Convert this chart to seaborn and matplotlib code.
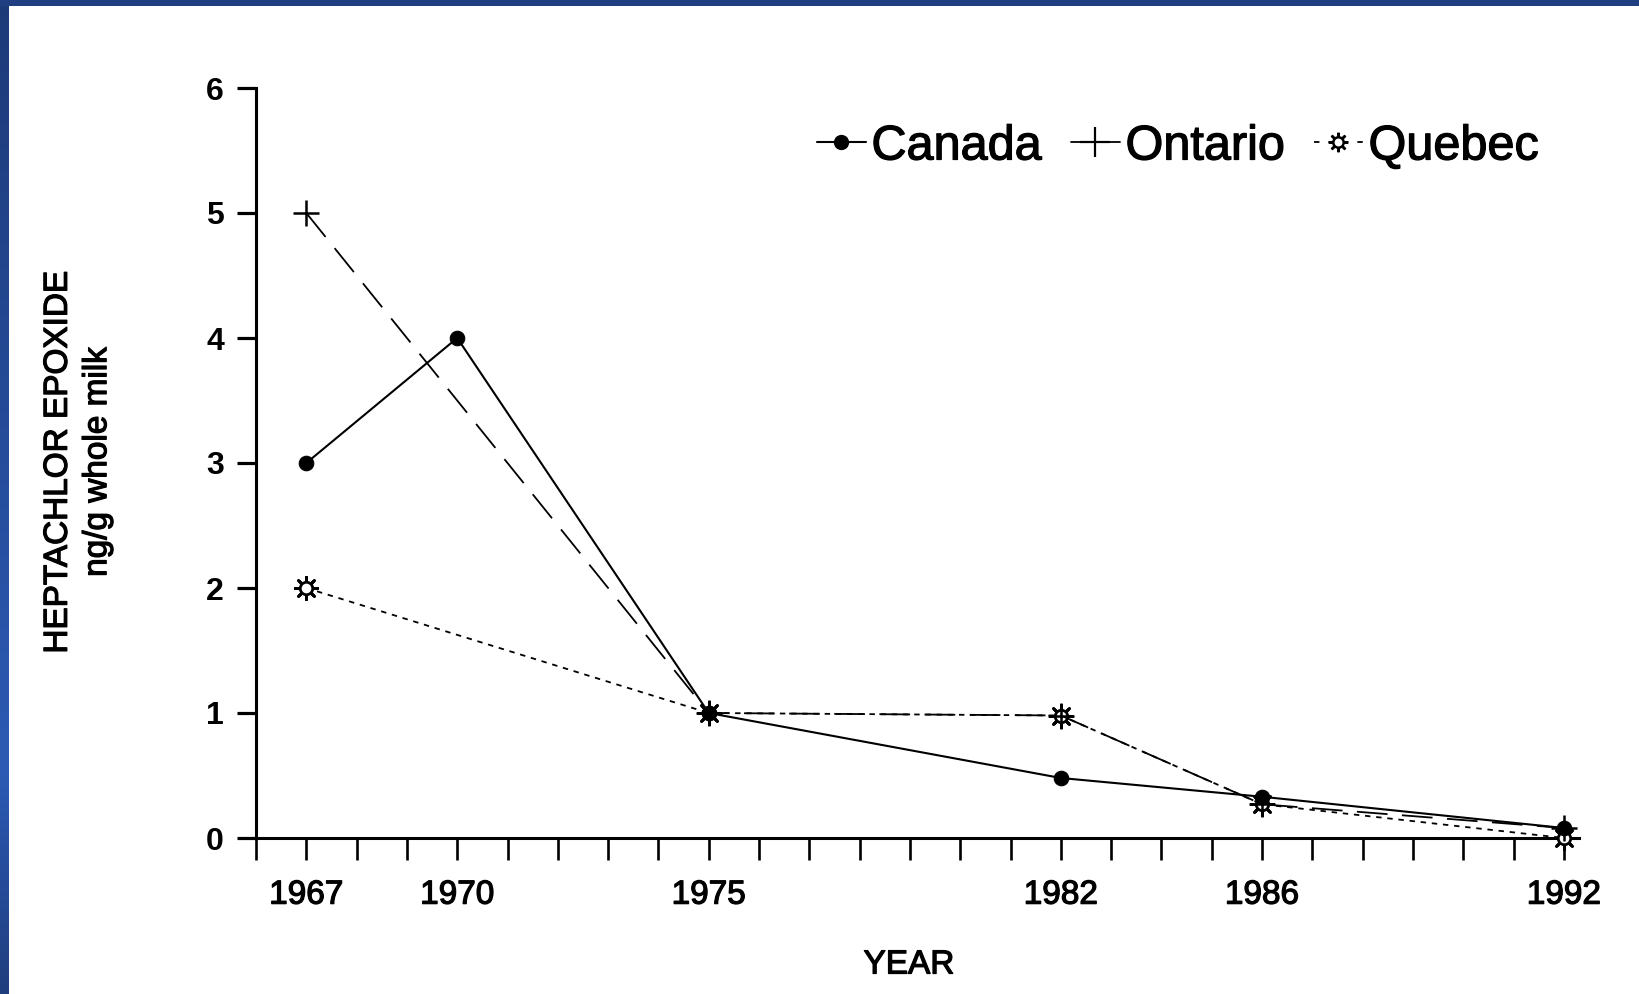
import numpy as np
import pandas as pd
import matplotlib
matplotlib.use("Agg")
import matplotlib.pyplot as plt
import matplotlib.patheffects as pe
from matplotlib.lines import Line2D
from matplotlib.legend_handler import HandlerTuple
from matplotlib.colors import LinearSegmentedColormap
from matplotlib.ticker import FixedLocator, FuncFormatter
import seaborn as sns

# Heptachlor epoxide residues in whole milk (ng/g)
canada_years = [1967, 1970, 1975, 1982, 1986, 1992]
canada_vals = [3.0, 4.0, 1.0, 0.48, 0.33, 0.08]

ontario_years = [1967, 1975, 1982, 1986, 1992]
ontario_vals = [5.0, 1.0, 0.98, 0.27, 0.08]

quebec_years = [1967, 1975, 1982, 1986, 1992]
quebec_vals = [2.0, 1.0, 0.98, 0.27, 0.0]

labelled_years = [1967, 1970, 1975, 1982, 1986, 1992]
y_ticks = [0, 1, 2, 3, 4, 5, 6]

sns.set_theme(style="white")
plt.rcParams["font.family"] = ["Liberation Sans", "DejaVu Sans"]

W, H = 1639, 994
fig = plt.figure(figsize=(W / 100, H / 100), dpi=100)
fig.patch.set_facecolor("white")

ink = "black"
heavy = [pe.withStroke(linewidth=0.9, foreground=ink)]

# slide frame: thin navy band on top, gradient strip on the left
left_strip = fig.add_axes([0, 0, 9 / W, 1])
cmap = LinearSegmentedColormap.from_list(
    "frame", [(0.0, "#1d3a78"), (0.78, "#2c5ab4"), (1.0, "#1f3e7e")])
left_strip.imshow(np.linspace(0, 1, 256).reshape(-1, 1), aspect="auto",
                  cmap=cmap, extent=[0, 1, 1, 0])
left_strip.set_axis_off()
top_band = fig.add_axes([0, 1 - 6 / H, 1, 6 / H])
top_band.set_facecolor("#1f3f80")
top_band.set_xticks([])
top_band.set_yticks([])
for s in top_band.spines.values():
    s.set_visible(False)

ax = fig.add_axes([256 / W, 156 / H, 1323 / W, 750 / H])
ax.set_facecolor("white")

canada = pd.DataFrame({"year": canada_years, "value": canada_vals})
ontario = pd.DataFrame({"year": ontario_years, "value": ontario_vals})
quebec = pd.DataFrame({"year": quebec_years, "value": quebec_vals})

# Quebec: dotted line, sun-like open marker
sns.scatterplot(data=quebec, x="year", y="value", ax=ax, marker=(8, 2, 0),
                s=260, color=ink, edgecolor=ink, linewidth=2.0,
                clip_on=False, zorder=4, legend=False)
sns.lineplot(data=quebec, x="year", y="value", ax=ax, color=ink,
             linewidth=1.3, linestyle=(0, (3, 3.2)), marker="o",
             markersize=9, markerfacecolor="white", markeredgecolor=ink,
             markeredgewidth=2.0, errorbar=None, clip_on=False, zorder=5)

# Ontario: long dashes with plus markers
sns.lineplot(data=ontario, x="year", y="value", ax=ax, color=ink,
             linewidth=1.3, linestyle=(0, (17, 8)), marker="+",
             markersize=19, markeredgewidth=1.8, markeredgecolor=ink,
             errorbar=None, clip_on=False, zorder=6)

# Canada: solid line with filled circles
sns.lineplot(data=canada, x="year", y="value", ax=ax, color=ink,
             linewidth=1.5, marker="o", markersize=10.5,
             markerfacecolor=ink, markeredgecolor=ink, errorbar=None,
             clip_on=False, zorder=7)

ax.set_xlim(1966, 1992.3)
ax.set_ylim(0, 6)

all_years = list(range(1966, 1993))
ax.xaxis.set_major_locator(FixedLocator(all_years))
ax.xaxis.set_major_formatter(
    FuncFormatter(lambda v, p: str(int(round(v))) if int(round(v)) in labelled_years else ""))
ax.set_yticks(y_ticks)
ax.set_yticklabels([str(t) for t in y_ticks])

ax.tick_params(axis="x", direction="out", length=16, width=1.9, color=ink,
               pad=14, labelsize=24, labelcolor=ink, bottom=True)
ax.tick_params(axis="y", direction="out", length=14, width=2.3, color=ink,
               pad=9, labelsize=23, labelcolor=ink, left=True)
for lab in ax.get_yticklabels():
    lab.set_fontweight("bold")
for lab in ax.get_xticklabels():
    lab.set_path_effects(heavy)

for side in ["top", "right"]:
    ax.spines[side].set_visible(False)
for side in ["left", "bottom"]:
    ax.spines[side].set_visible(True)
    ax.spines[side].set_color(ink)
    ax.spines[side].set_linewidth(2.2)

ax.set_xlabel("")
ax.set_ylabel("")
ax.grid(False)

fig.text(909 / W, 1 - 965 / H, "YEAR", ha="center", va="center",
         fontsize=24, color=ink, path_effects=heavy)
fig.text(78 / W, 1 - 462 / H, "HEPTACHLOR EPOXIDE\nng/g whole milk",
         ha="center", va="center", rotation=90, fontsize=24, color=ink,
         linespacing=1.35, multialignment="center", path_effects=heavy)

# legend
h_canada = Line2D([], [], color=ink, linewidth=1.5, marker="o",
                  markersize=10, markerfacecolor=ink)
h_ontario = Line2D([], [], color=ink, linewidth=1.3, marker="+",
                   markersize=22, markeredgewidth=1.6)
h_quebec = (Line2D([], [], color=ink, linewidth=1.3, linestyle=(0, (3, 5))),
            Line2D([], [], linestyle="none", marker=(8, 2, 0), markersize=14,
                   markeredgewidth=1.8, color=ink),
            Line2D([], [], linestyle="none", marker="o", markersize=7.5,
                   markerfacecolor="white", markeredgecolor=ink,
                   markeredgewidth=1.8))
leg = ax.legend([h_canada, h_ontario, h_quebec],
                ["Canada", "Ontario", "Quebec"],
                handler_map={tuple: HandlerTuple(ndivide=1, pad=0.0)},
                loc="center", bbox_to_anchor=(1178 / W, 1 - 147 / H),
                bbox_transform=fig.transFigure, ncol=3, frameon=False,
                fontsize=35, handlelength=1.0, handletextpad=0.12,
                columnspacing=0.6, borderpad=0.0)
for t in leg.get_texts():
    t.set_color(ink)
    t.set_path_effects(heavy)

fig.savefig("out.png", dpi=100, facecolor="white")
